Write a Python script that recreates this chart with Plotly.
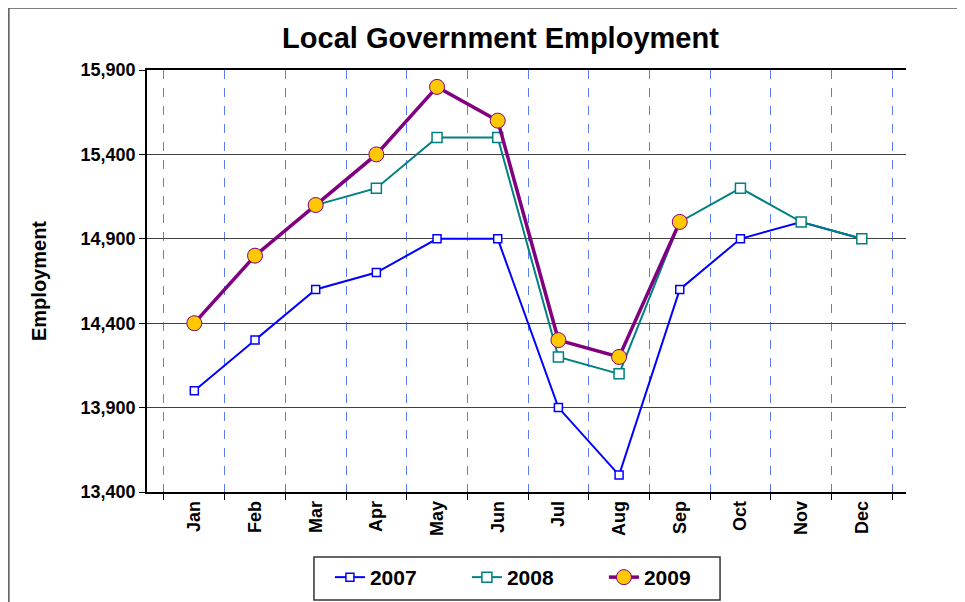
import plotly.graph_objects as go

months = ['Jan', 'Feb', 'Mar', 'Apr', 'May', 'Jun', 'Jul', 'Aug', 'Sep', 'Oct', 'Nov', 'Dec']
emp2007 = [14000, 14300, 14600, 14700, 14900, 14900, 13900, 13500, 14600, 14900, 15000, 14900]
emp2008 = [14400, 14800, 15100, 15200, 15500, 15500, 14200, 14100, 15000, 15200, 15000, 14900]
emp2009 = [14400, 14800, 15100, 15400, 15800, 15600, 14300, 14200, 15000]
yTicks = [13400, 13900, 14400, 14900, 15400, 15900]


def createChart():
    fig = go.Figure()
    fig.add_trace(go.Scatter(
        x=months, y=emp2007, name='2007', mode='lines+markers',
        line=dict(color='#0000ff', width=2),
        marker=dict(symbol='square', size=8, color='white', line=dict(color='#0000ff', width=1.5))))
    fig.add_trace(go.Scatter(
        x=months, y=emp2008, name='2008', mode='lines+markers',
        line=dict(color='#008080', width=2),
        marker=dict(symbol='square', size=10, color='white', line=dict(color='#008080', width=1.5))))
    fig.add_trace(go.Scatter(
        x=months[:len(emp2009)], y=emp2009, name='2009', mode='lines+markers',
        line=dict(color='#800080', width=3.5),
        marker=dict(symbol='circle', size=15, color='#ffc800', line=dict(color='#800080', width=1))))

    fig.update_xaxes(
        type='category', categoryorder='array', categoryarray=months,
        tickson='boundaries', ticks='outside', ticklen=6, tickcolor='black',
        showgrid=True, gridcolor='#5b7cf0', griddash='dash', gridwidth=1,
        showline=True, linecolor='black', linewidth=1.5, mirror=True,
        automargin=False, tickangle=-90,
        tickfont=dict(family='Liberation Sans', size=18, color='black', weight='bold'))
    fig.update_yaxes(
        range=[13400, 15900], tickvals=yTicks, tickformat=',d',
        ticks='outside', ticklen=6, tickcolor='black',
        showgrid=True, gridcolor='#404040', gridwidth=1,
        showline=True, linecolor='black', linewidth=1.5, zeroline=False,
        automargin=False,
        title=dict(text='Employment', standoff=29,
                   font=dict(family='Liberation Sans', size=20, color='black', weight='bold')),
        tickfont=dict(family='Liberation Sans', size=18, color='black', weight='bold'))

    # the page body adds about 8px on the left and top, so the figure is a little smaller
    fig.update_layout(
        width=957, height=594,
        margin=dict(l=139, r=59, t=62, b=110, autoexpand=False),
        paper_bgcolor='white', plot_bgcolor='white',
        title=dict(text='<b>Local Government Employment</b>', x=0.5146, xanchor='center',
                   y=0.9495, yanchor='middle',
                   font=dict(family='Liberation Sans', size=29, color='black')),
        legend=dict(orientation='h', x=0.241, xanchor='left', y=-0.154, yanchor='top',
                    borderwidth=0, entrywidth=92, bgcolor='rgba(0,0,0,0)',
                    font=dict(family='Liberation Sans', size=21, color='black', weight='bold')),
        shapes=[dict(type='rect', xref='paper', yref='paper',
                     x0=-0.182, x1=1.0695, y0=-0.3, y1=1.147,
                     line=dict(color='#555555', width=1.5)),
                dict(type='rect', xref='paper', yref='paper',
                     x0=0.220, x1=0.755, y0=-0.256, y1=-0.154,
                     line=dict(color='#333333', width=1.5))])
    fig.write_html('out.html')


if __name__ == '__main__':
    createChart()
